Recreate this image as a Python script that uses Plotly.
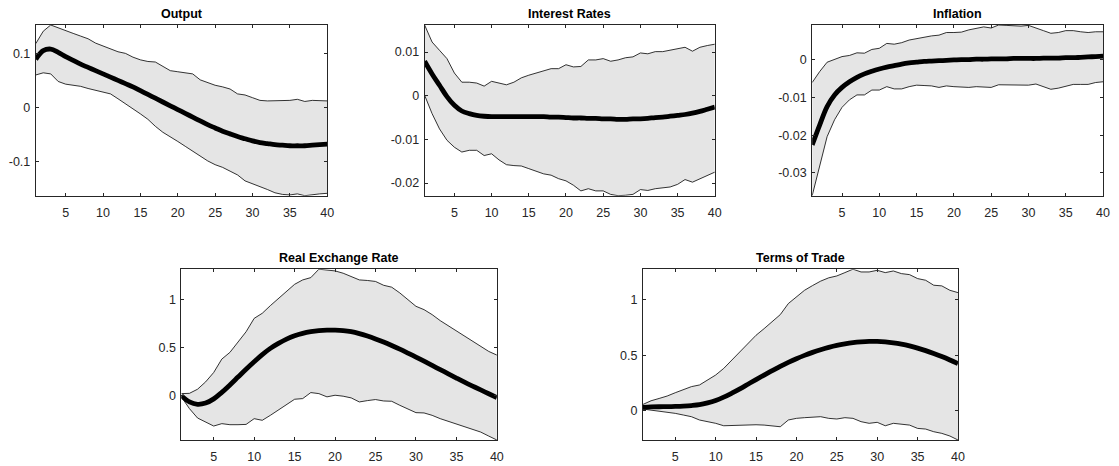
import plotly.graph_objects as go

periods = list(range(1, 41))

output_median = [0.090,0.106,0.109,0.103,0.095,0.088,0.081,0.075,0.069,0.063,0.057,0.051,0.045,0.039,0.032,0.025,0.018,0.011,0.004,-0.003,
                 -0.010,-0.017,-0.024,-0.031,-0.037,-0.043,-0.048,-0.053,-0.057,-0.061,-0.064,-0.066,-0.068,-0.069,-0.070,-0.070,-0.070,-0.069,-0.068,-0.067]
output_upper = [0.119,0.142,0.1535,0.148,0.142,0.138,0.133,0.128,0.120,0.115,0.109,0.104,0.101,0.094,0.089,0.086,0.085,0.077,0.069,0.067,
                0.065,0.063,0.052,0.047,0.042,0.039,0.035,0.026,0.024,0.019,0.014,0.013,0.013,0.013,0.014,0.016,0.012,0.014,0.014,0.013]
output_lower = [0.061,0.065,0.063,0.049,0.044,0.042,0.040,0.036,0.033,0.030,0.026,0.017,0.008,-0.001,-0.011,-0.021,-0.034,-0.045,-0.053,-0.062,
                -0.071,-0.080,-0.089,-0.098,-0.105,-0.110,-0.117,-0.124,-0.135,-0.140,-0.145,-0.151,-0.157,-0.160,-0.161,-0.159,-0.1624,-0.160,-0.159,-0.158]

interest_median = [0.0079,0.0050,0.0024,-0.0002,-0.0022,-0.0035,-0.0041,-0.0045,-0.0047,-0.0048,-0.0048,-0.0048,-0.0048,-0.0048,-0.0048,-0.0048,-0.0048,-0.0049,-0.0049,-0.0050,
                   -0.0051,-0.0051,-0.0052,-0.0052,-0.0053,-0.0053,-0.0054,-0.0054,-0.0053,-0.0053,-0.0052,-0.0050,-0.0049,-0.0047,-0.0045,-0.0043,-0.0040,-0.0036,-0.0031,-0.0026]
interest_upper = [0.0162,0.0123,0.0104,0.0085,0.0052,0.0031,0.0031,0.0029,0.0022,0.0033,0.0029,0.0025,0.0031,0.0041,0.0047,0.0052,0.0056,0.0062,0.0062,0.0071,
                  0.0066,0.0067,0.0082,0.0082,0.0085,0.0079,0.0082,0.0087,0.0089,0.0098,0.0096,0.0101,0.0101,0.0104,0.0107,0.0111,0.0102,0.0111,0.0115,0.0118]
interest_lower = [0.0001,-0.0041,-0.0076,-0.0102,-0.0118,-0.0129,-0.0125,-0.0125,-0.0137,-0.0133,-0.0147,-0.0158,-0.0160,-0.0161,-0.0167,-0.0173,-0.0179,-0.0182,-0.0190,-0.0195,
                  -0.0205,-0.0218,-0.0213,-0.0218,-0.0218,-0.0226,-0.0229,-0.0228,-0.0226,-0.0215,-0.0217,-0.0213,-0.0211,-0.0209,-0.0203,-0.0192,-0.0198,-0.0190,-0.0182,-0.0175]

inflation_median = [-0.0226,-0.0173,-0.0124,-0.0093,-0.0073,-0.0058,-0.0046,-0.0037,-0.0030,-0.0024,-0.0019,-0.0015,-0.0011,-0.0008,-0.0006,-0.0004,-0.0003,-0.0002,-0.0001,0.0000,
                    0.0001,0.0001,0.0002,0.0002,0.0003,0.0003,0.0003,0.0004,0.0004,0.0004,0.0004,0.0005,0.0005,0.0005,0.0006,0.0006,0.0007,0.0008,0.0009,0.0010]
inflation_upper = [-0.0060,-0.0031,-0.0006,0.0002,0.0009,0.0012,0.0019,0.0018,0.0028,0.0031,0.0044,0.0042,0.0046,0.0053,0.0057,0.0060,0.0064,0.0066,0.0073,0.0073,
                   0.0074,0.0080,0.0084,0.0088,0.0085,0.0093,0.0092,0.0090,0.0090,0.0092,0.0084,0.0078,0.0071,0.0073,0.0078,0.0078,0.0075,0.0073,0.0075,0.0075]
inflation_lower = [-0.0361,-0.0283,-0.0204,-0.0159,-0.0126,-0.0106,-0.0093,-0.0093,-0.0080,-0.0080,-0.0071,-0.0077,-0.0077,-0.0071,-0.0067,-0.0068,-0.0069,-0.0073,-0.0069,-0.0071,
                   -0.0073,-0.0073,-0.0071,-0.0071,-0.0073,-0.0066,-0.0066,-0.0068,-0.0067,-0.0067,-0.0064,-0.0071,-0.0078,-0.0075,-0.0069,-0.0065,-0.0065,-0.0065,-0.0060,-0.0058]

rer_median = [-0.005,-0.070,-0.095,-0.082,-0.038,0.030,0.108,0.190,0.272,0.350,0.425,0.490,0.542,0.587,0.622,0.647,0.664,0.675,0.680,0.680,
              0.676,0.665,0.645,0.619,0.589,0.556,0.520,0.482,0.441,0.399,0.356,0.312,0.268,0.224,0.180,0.137,0.096,0.056,0.016,-0.024]
rer_upper = [0.017,0.020,0.063,0.140,0.238,0.378,0.448,0.552,0.664,0.804,0.857,0.937,1.014,1.090,1.160,1.206,1.230,1.318,1.310,1.300,
             1.276,1.240,1.206,1.200,1.190,1.150,1.130,1.070,1.000,0.930,0.895,0.843,0.780,0.727,0.675,0.622,0.570,0.520,0.458,0.420]
rer_lower = [-0.017,-0.140,-0.238,-0.280,-0.322,-0.297,-0.308,-0.308,-0.305,-0.245,-0.262,-0.210,-0.157,-0.098,-0.042,-0.035,0.028,0.017,-0.017,0.000,
             -0.010,-0.028,-0.070,-0.056,-0.045,-0.060,-0.063,-0.105,-0.147,-0.182,-0.185,-0.210,-0.245,-0.273,-0.297,-0.325,-0.357,-0.385,-0.427,-0.468]

tot_median = [0.028,0.031,0.033,0.034,0.036,0.039,0.044,0.052,0.068,0.090,0.120,0.156,0.195,0.237,0.279,0.320,0.360,0.399,0.435,0.468,
              0.498,0.525,0.549,0.570,0.588,0.602,0.613,0.620,0.624,0.624,0.620,0.612,0.600,0.584,0.564,0.541,0.515,0.487,0.456,0.423]
tot_upper = [0.054,0.087,0.108,0.130,0.160,0.185,0.215,0.230,0.274,0.320,0.380,0.455,0.530,0.605,0.680,0.740,0.807,0.867,0.967,1.030,
             1.087,1.130,1.170,1.200,1.217,1.247,1.278,1.253,1.253,1.268,1.247,1.262,1.238,1.229,1.193,1.178,1.133,1.127,1.087,1.066]
tot_lower = [0.012,0.003,-0.012,-0.021,-0.027,-0.042,-0.057,-0.087,-0.102,-0.117,-0.139,-0.136,-0.133,-0.133,-0.130,-0.133,-0.139,-0.148,-0.087,-0.072,
             -0.066,-0.063,-0.057,-0.072,-0.078,-0.066,-0.072,-0.102,-0.117,-0.108,-0.139,-0.117,-0.127,-0.133,-0.163,-0.169,-0.193,-0.208,-0.232,-0.268]

x_tick_vals = [5, 10, 15, 20, 25, 30, 35, 40]
x_tick_text = ["5", "10", "15", "20", "25", "30", "35", "40"]

panels = [
    ("Output", output_median, output_upper, output_lower, [-0.1, 0, 0.1], ["-0.1", "0", "0.1"]),
    ("Interest Rates", interest_median, interest_upper, interest_lower, [-0.02, -0.01, 0, 0.01], ["-0.02", "-0.01", "0", "0.01"]),
    ("Inflation", inflation_median, inflation_upper, inflation_lower, [-0.03, -0.02, -0.01, 0], ["-0.03", "-0.02", "-0.01", "0"]),
    ("Real Exchange Rate", rer_median, rer_upper, rer_lower, [0, 0.5, 1], ["0", "0.5", "1"]),
    ("Terms of Trade", tot_median, tot_upper, tot_lower, [0, 0.5, 1], ["0", "0.5", "1"]),
]

W, H = 1119, 466
# pixel boxes (left, right, top, bottom)
boxes = [
    (36, 329.3, 25, 195.7),
    (427.3, 719.3, 25, 195.7),
    (817.3, 1110, 25, 195.7),
    (182.5, 500, 269.2, 440),
    (647, 964, 269.2, 440),
]

FONT = "Liberation Sans, Arial, Helvetica, sans-serif"
AXC = "#262626"
fig = go.Figure()
annotations = []
layout = {}
for i, (title, med, up, lo, yt, ytt) in enumerate(panels):
    n = "" if i == 0 else str(i + 1)
    xa, ya = "x" + n, "y" + n
    common = dict(xaxis=xa, yaxis=ya, showlegend=False, hoverinfo="skip", mode="lines")
    fig.add_trace(go.Scatter(x=periods, y=lo, line=dict(width=0, color="rgba(0,0,0,0)"), **common))
    fig.add_trace(go.Scatter(x=periods, y=up, fill="tonexty", fillcolor="#e5e5e5",
                             line=dict(width=0, color="rgba(0,0,0,0)"), **common))
    fig.add_trace(go.Scatter(x=periods, y=lo, line=dict(width=0.8, color="black"), **common))
    fig.add_trace(go.Scatter(x=periods, y=up, line=dict(width=0.8, color="black"), **common))
    fig.add_trace(go.Scatter(x=periods, y=med, line=dict(width=4.8, color="black", shape="spline", smoothing=1.0), **common))
    l, r, t, b = boxes[i]
    axstyle = dict(showline=True, linecolor=AXC, linewidth=1, mirror="ticks", ticks="inside",
                   ticklen=3, tickwidth=1, tickcolor=AXC, showgrid=False, zeroline=False,
                   tickfont=dict(family=FONT, size=12.5, color=AXC), fixedrange=True)
    layout["xaxis" + n] = dict(domain=[l / W, r / W], anchor=ya, range=[1, 40],
                               tickvals=x_tick_vals, ticktext=x_tick_text, ticklabelstandoff=5, **axstyle)
    layout["yaxis" + n] = dict(domain=[1 - b / H, 1 - t / H], anchor=xa,
                               range=[min(lo), max(up)], tickvals=yt, ticktext=ytt, ticklabelstandoff=2, **axstyle)
    annotations.append(dict(text=title, x=(l + r) / 2 / W, y=1 - t / H, xref="paper", yref="paper",
                            xanchor="center", yanchor="bottom", yshift=2, showarrow=False,
                            font=dict(family=FONT, size=12.5, color="black", weight="bold")))

fig.update_layout(width=W, height=H, margin=dict(l=0, r=0, t=0, b=0),
                  paper_bgcolor="white", plot_bgcolor="white", annotations=annotations, **layout)
fig.write_html("out.html")
